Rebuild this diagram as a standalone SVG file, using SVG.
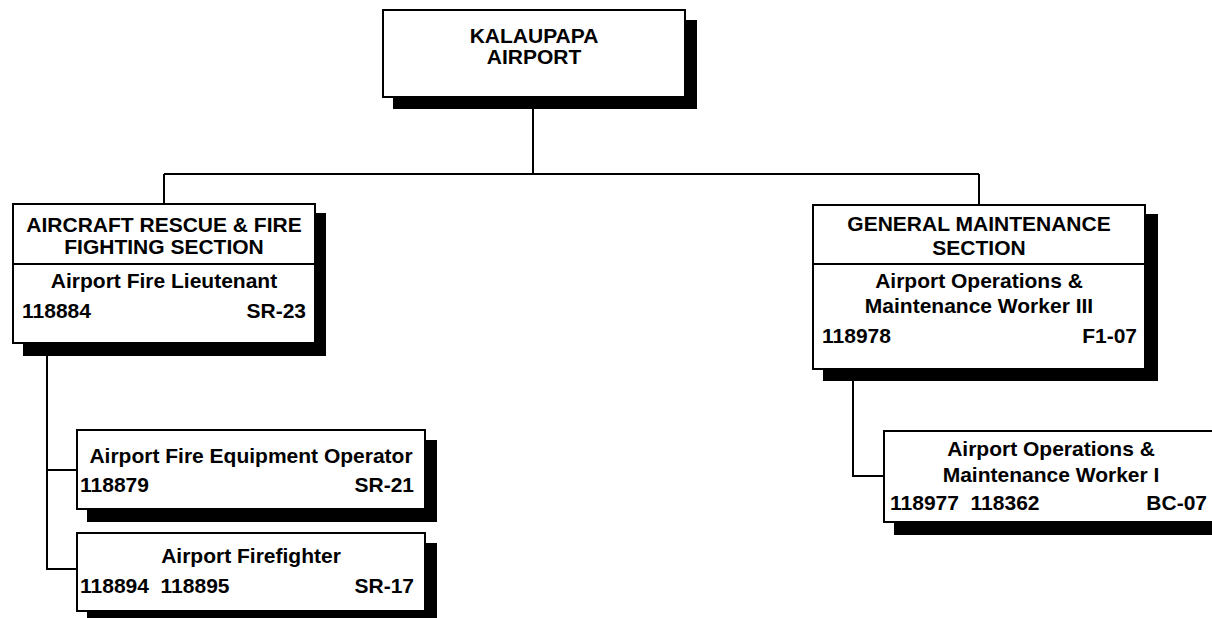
<svg xmlns="http://www.w3.org/2000/svg" width="1212" height="618" viewBox="0 0 1212 618">
<style>
.box{fill:#fff;stroke:#000;stroke-width:2}
.sh{fill:#000}
.ln{fill:none;stroke:#000;stroke-width:2}
text{font-family:"Liberation Sans",Arial,sans-serif;font-weight:bold;font-size:21px;fill:#000}
.c{text-anchor:middle}
.r{text-anchor:end}
</style>
<rect width="1212" height="618" fill="#fff"/>
<g id="connectors">
<path class="ln" d="M533,109 V174 M164,174 H979 M164,174 V204 M979,174 V205"/>
<path class="ln" d="M47,356 V569 H77 M47,470 H77"/>
<path class="ln" d="M853,381 V476 H884"/>
</g>
<g id="n-airport">
<rect class="sh" x="393" y="20" width="304" height="89"/>
<rect class="box" x="383" y="10" width="302" height="87"/>
<text class="c" x="534" y="43">KALAUPAPA</text>
<text class="c" x="534" y="64">AIRPORT</text>
</g>
<g id="n-arff">
<rect class="sh" x="23" y="213" width="303" height="143"/>
<rect class="box" x="13" y="204" width="302" height="139"/>
<line class="ln" x1="13" y1="264" x2="315" y2="264"/>
<text class="c" x="164" y="232">AIRCRAFT RESCUE &amp; FIRE</text>
<text class="c" x="164" y="254">FIGHTING SECTION</text>
<text class="c" x="164" y="288">Airport Fire Lieutenant</text>
<text x="22" y="318">118884</text>
<text class="r" x="306" y="318">SR-23</text>
</g>
<g id="n-gm">
<rect class="sh" x="823" y="214" width="335" height="167"/>
<rect class="box" x="813" y="205" width="332" height="164"/>
<line class="ln" x1="813" y1="264" x2="1145" y2="264"/>
<text class="c" x="979" y="231">GENERAL MAINTENANCE</text>
<text class="c" x="979" y="255">SECTION</text>
<text class="c" x="979" y="288">Airport Operations &amp;</text>
<text class="c" x="979" y="313">Maintenance Worker III</text>
<text x="822" y="343">118978</text>
<text class="r" x="1137" y="343">F1-07</text>
</g>
<g id="n-feo">
<rect class="sh" x="87" y="440" width="350" height="82"/>
<rect class="box" x="77" y="430" width="348" height="79"/>
<text class="c" x="251" y="463">Airport Fire Equipment Operator</text>
<text x="80" y="492">118879</text>
<text class="r" x="414" y="492">SR-21</text>
</g>
<g id="n-ff">
<rect class="sh" x="87" y="543" width="350" height="80"/>
<rect class="box" x="77" y="533" width="348" height="78"/>
<text class="c" x="251" y="563">Airport Firefighter</text>
<text x="80" y="593" xml:space="preserve">118894  118895</text>
<text class="r" x="414" y="593">SR-17</text>
</g>
<g id="n-aomw1">
<rect class="sh" x="894" y="441" width="336" height="94"/>
<rect class="box" x="884" y="431" width="334" height="91"/>
<text class="c" x="1051" y="456">Airport Operations &amp;</text>
<text class="c" x="1051" y="482">Maintenance Worker I</text>
<text x="890" y="510" xml:space="preserve">118977  118362</text>
<text class="r" x="1207" y="510">BC-07</text>
</g>
</svg>
